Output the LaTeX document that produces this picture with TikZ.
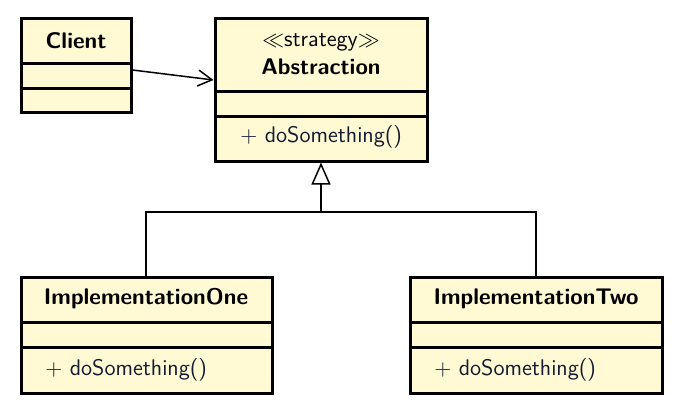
\documentclass[tikz,border=0pt]{standalone}
\usetikzlibrary{arrows.meta,fit}
\definecolor{umlfill}{HTML}{FFF9D4}
\definecolor{optext}{HTML}{141C33}
\begin{document}
\begin{tikzpicture}[x=0.5pt,y=-0.5pt,
  every node/.style={font=\fontsize{11.3}{13.5}\selectfont\sffamily},
  box/.style={draw, line width=1.5pt, fill=umlfill, inner sep=0pt},
  divider/.style={line width=1.5pt},
  title/.style={font=\fontsize{11.3}{13.5}\selectfont\sffamily\bfseries, inner sep=0pt},
  op/.style={anchor=west, inner sep=0pt, text=optext},
  conn/.style={line width=0.75pt}
]
\useasboundingbox (0,0) rectangle (680,412);
% Client
\node[box, fit={(21,18) (131,112)}] (client) {};
\node[title] (clientname) at (76,41) {Client};
\draw[divider] (client.west |- 0,63) -- (client.east |- 0,63);
\draw[divider] (client.west |- 0,88) -- (client.east |- 0,88);
% Abstraction
\node[box, fit={(215,18) (427,161)}] (abs) {};
\node[inner sep=0pt] (absster) at (321,42) {$\ll$strategy$\gg$};
\node[title] (absname) at (321,67) {Abstraction};
\draw[divider] (abs.west |- 0,91) -- (abs.east |- 0,91);
\draw[divider] (abs.west |- 0,116) -- (abs.east |- 0,116);
\node[op] (absop) at (240,137) {$+$ doSomething()};
% ImplementationOne
\node[box, fit={(21,277) (272,393)}] (one) {};
\node[title] (onename) at (146,299) {ImplementationOne};
\draw[divider] (one.west |- 0,322) -- (one.east |- 0,322);
\draw[divider] (one.west |- 0,347) -- (one.east |- 0,347);
\node[op] (oneop) at (45,370) {$+$ doSomething()};
% ImplementationTwo
\node[box, fit={(410,277) (662,393)}] (two) {};
\node[title] (twoname) at (536,299) {ImplementationTwo};
\draw[divider] (two.west |- 0,322) -- (two.east |- 0,322);
\draw[divider] (two.west |- 0,347) -- (two.east |- 0,347);
\node[op] (twoop) at (434,370) {$+$ doSomething()};
% association
\draw[conn, -{Straight Barb[length=7pt,width=8pt,line width=0.75pt]}] (client.east |- 0,70) -- (abs.west |- 0,80);
% generalization
\coordinate (joint) at (321,212);
\draw[conn, line width=1pt, -{Triangle[open, length=11pt, width=9.5pt, fill=white, line width=0.75pt]}] (joint) -- (abs.south -| joint);
\draw[conn] (one.north -| 146,0) |- (joint) -| (two.north -| 536,0);
\end{tikzpicture}
\end{document}
